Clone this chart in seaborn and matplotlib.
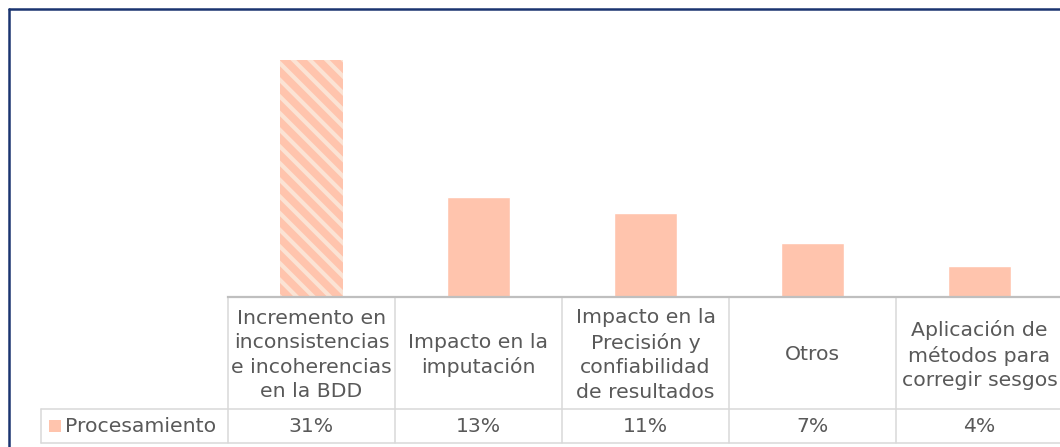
import numpy as np
import pandas as pd
import matplotlib
matplotlib.use("Agg")
import matplotlib.pyplot as plt
import seaborn as sns


# ==================================================
# DATA
# ==================================================
categories = [
    "Incremento en\ninconsistencias\ne incoherencias\nen la BDD",
    "Impacto en la\nimputación",
    "Impacto en la\nPrecisión y\nconfiabilidad\nde resultados",
    "Otros",
    "Aplicación de\nmétodos para\ncorregir sesgos",
]
values = [31, 13, 11, 7, 4]
value_labels = ["31%", "13%", "11%", "7%", "4%"]
series_name = "Procesamiento"


# ==================================================
# STYLE
# ==================================================
sns.set_style("white")
plt.rcParams["font.family"] = ["DejaVu Sans"]
plt.rcParams["hatch.linewidth"] = 3.0

BAR_COLOR = "#FFC4AD"
STRIPE_COLOR = "#FBE3D4"
TEXT_COLOR = "#595959"
GRID_COLOR = "#D9D9D9"
AXIS_COLOR = "#BFBFBF"
FRAME_COLOR = "#1A3470"
FONT_SIZE = 14.7

W, H = 1060, 447
fig = plt.figure(figsize=(W / 100, H / 100), dpi=100)

# layout in pixels (from top-left)
col_left = 228
col_w = 167
base_y = 297
head_bottom = 409
row_bottom = 443
row_left = 41
n = len(categories)

# ==================================================
# BARS
# ==================================================
ax = fig.add_axes([col_left / W, (H - base_y) / H, col_w * n / W, 268 / H])
df = pd.DataFrame({"categoria": categories, "valor": values})
sns.barplot(
    data=df,
    x="categoria",
    y="valor",
    color=BAR_COLOR,
    saturation=1,
    width=0.38,
    ax=ax,
)
first = ax.patches[0]
first.set_hatch("\\\\")
first.set_edgecolor(STRIPE_COLOR)
first.set_linewidth(0)

ax.set_ylim(0, 35)
ax.set_xlim(-0.5, n - 0.5)
ax.set_facecolor("none")
for s in ["top", "left", "right"]:
    ax.spines[s].set_visible(False)
ax.spines["bottom"].set_color(AXIS_COLOR)
ax.spines["bottom"].set_linewidth(1.6)
ax.set_xticks([])
ax.set_yticks([])
ax.set_xlabel("")
ax.set_ylabel("")

# ==================================================
# DATA TABLE + FRAME (pixel overlay)
# ==================================================
ov = fig.add_axes([0, 0, 1, 1], zorder=-1)
ov.set_xlim(0, W)
ov.set_ylim(H, 0)
ov.axis("off")

lw = 1.1
right_edge = col_left + col_w * n
# vertical lines of the table
for i in range(n + 1):
    x = col_left + col_w * i
    ov.plot([x, x], [base_y, row_bottom], color=GRID_COLOR, lw=lw)
ov.plot([row_left, row_left], [head_bottom, row_bottom], color=GRID_COLOR, lw=lw)
ov.plot([row_left, right_edge], [head_bottom, head_bottom], color=GRID_COLOR, lw=lw)
ov.plot([row_left, right_edge], [row_bottom, row_bottom], color=GRID_COLOR, lw=lw)

head_mid = (base_y + head_bottom) / 2
row_mid = (head_bottom + row_bottom) / 2
for i, (cat, lab) in enumerate(zip(categories, value_labels)):
    cx = col_left + col_w * (i + 0.5)
    ov.text(cx, head_mid + 2, cat, ha="center", va="center",
            fontsize=FONT_SIZE, color=TEXT_COLOR, linespacing=1.36)
    ov.text(cx, row_mid, lab, ha="center", va="center",
            fontsize=FONT_SIZE, color=TEXT_COLOR)

# legend key + series name
ov.add_patch(plt.Rectangle((49, 420), 12, 12, color=BAR_COLOR, lw=0))
ov.text(65, row_mid, series_name, ha="left", va="center",
        fontsize=FONT_SIZE, color=TEXT_COLOR)

# outer frame (top + left)
ov.plot([8.5, 8.5], [8.5, H + 5], color=FRAME_COLOR, lw=1.8)
ov.plot([8.5, W + 5], [8.5, 8.5], color=FRAME_COLOR, lw=1.8)

fig.savefig("out.png", dpi=100)
